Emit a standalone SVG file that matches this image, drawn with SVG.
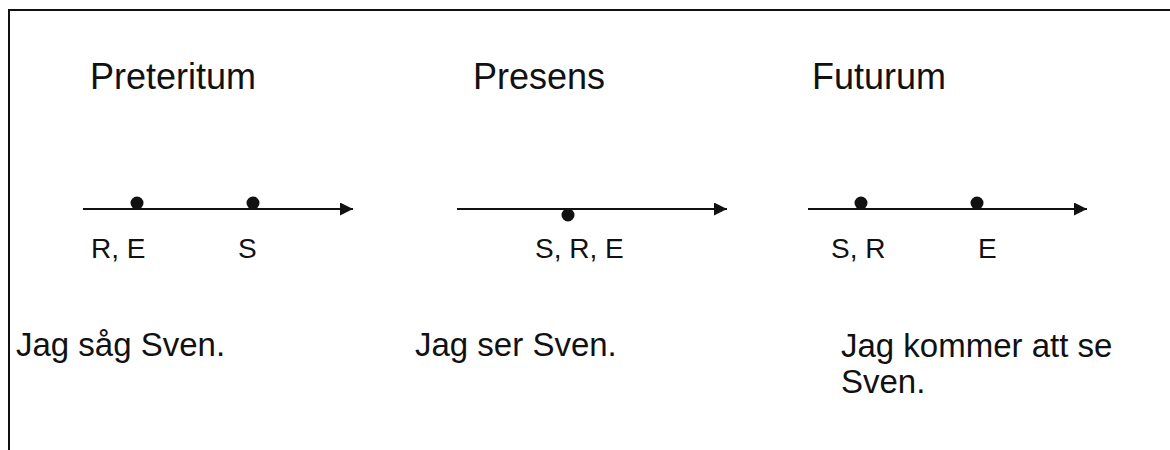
<svg xmlns="http://www.w3.org/2000/svg" width="1170" height="450" viewBox="0 0 1170 450">
<style>
  text { font-family: "Liberation Sans", Arial, sans-serif; fill: #111; }
  .title { font-size: 36px; }
  .lbl { font-size: 28px; }
  .sent { font-size: 33px; }
  .axis { stroke: #111; stroke-width: 2; fill: none; }
  .dot { fill: #111; }
  .frame { stroke: #111; stroke-width: 2; fill: none; }
</style>
<defs>
  <marker id="arr" viewBox="0 0 13 13" refX="13" refY="6.5" markerWidth="13" markerHeight="13" markerUnits="userSpaceOnUse" orient="auto">
    <path d="M0,0 L13,6.5 L0,13 Z" fill="#111"/>
  </marker>
</defs>
<rect width="1170" height="450" fill="#fff"/>
<path class="frame" d="M9,450 L9,10 L1170,10"/>

<g id="preteritum">
  <text class="title" x="90" y="89">Preteritum</text>
  <text class="lbl" x="91" y="258">R, E</text>
  <text class="lbl" x="238" y="258">S</text>
  <circle class="dot" cx="137" cy="203" r="6.5"/>
  <circle class="dot" cx="253" cy="203" r="6.5"/>
  <text class="sent" x="16" y="356">Jag såg Sven.</text>
</g>

<g id="presens">
  <text class="title" x="473" y="89">Presens</text>
  <text class="lbl" x="535" y="258">S, R, E</text>
  <circle class="dot" cx="568" cy="215" r="6.5"/>
  <text class="sent" x="415" y="356">Jag ser Sven.</text>
</g>

<g id="futurum">
  <text class="title" x="812" y="89">Futurum</text>
  <text class="lbl" x="831" y="258">S, R</text>
  <text class="lbl" x="978" y="258">E</text>
  <circle class="dot" cx="861" cy="203" r="6.5"/>
  <circle class="dot" cx="977" cy="203" r="6.5"/>
  <text class="sent" x="841" y="357">Jag kommer att se</text>
  <text class="sent" x="841" y="393">Sven.</text>
</g>

<g id="connectors">
  <line class="axis" x1="83" y1="209" x2="353" y2="209" marker-end="url(#arr)"/>
  <line class="axis" x1="457" y1="209" x2="727" y2="209" marker-end="url(#arr)"/>
  <line class="axis" x1="808" y1="209" x2="1087" y2="209" marker-end="url(#arr)"/>
</g>
</svg>
